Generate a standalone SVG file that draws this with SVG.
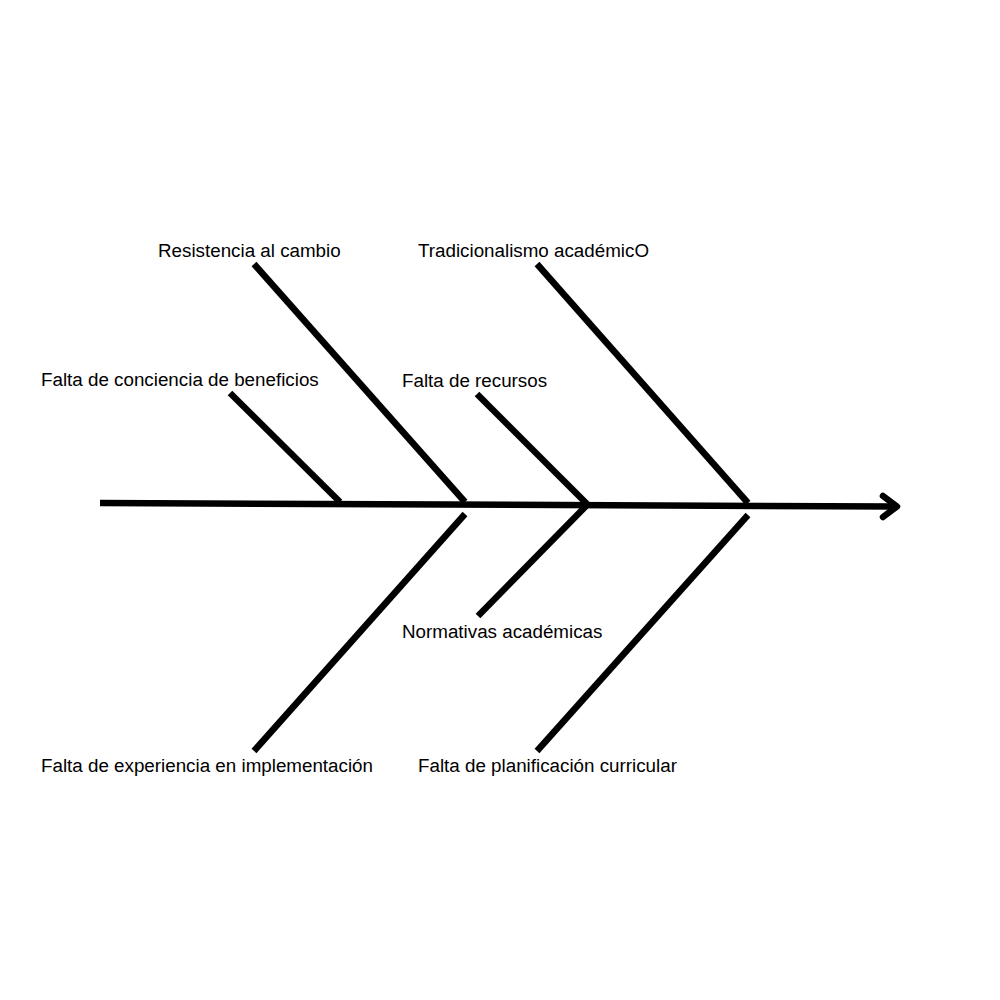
<svg xmlns="http://www.w3.org/2000/svg" width="1000" height="1000" viewBox="0 0 1000 1000">
<style>
.bone{stroke:#000;stroke-width:6.5;fill:none;stroke-linecap:butt}
.head{stroke:#000;stroke-width:6.5;fill:none;stroke-linecap:round;stroke-linejoin:round}
.lbl{font-family:"Liberation Sans",Arial,sans-serif;font-size:18.8px;fill:#000}
</style>
<rect width="1000" height="1000" fill="#fff"/>
<g id="connectors">
<line class="bone" x1="100" y1="503" x2="895" y2="506.5"/>
<polyline class="head" points="883,496 897,506.5 883,517"/>
<line class="bone" x1="254" y1="264" x2="465" y2="502"/>
<line class="bone" x1="230" y1="393" x2="340" y2="502"/>
<line class="bone" x1="537" y1="264" x2="748" y2="503"/>
<line class="bone" x1="477" y1="394" x2="587" y2="504"/>
<line class="bone" x1="465" y1="514" x2="254" y2="751"/>
<line class="bone" x1="587" y1="505" x2="478" y2="616"/>
<line class="bone" x1="748" y1="515" x2="537" y2="751"/>
</g>
<g id="node-resistencia"><text class="lbl" x="158" y="257">Resistencia al cambio</text></g>
<g id="node-conciencia"><text class="lbl" x="41" y="386">Falta de conciencia de beneficios</text></g>
<g id="node-tradicionalismo"><text class="lbl" x="418" y="257">Tradicionalismo académicO</text></g>
<g id="node-recursos"><text class="lbl" x="402" y="387">Falta de recursos</text></g>
<g id="node-experiencia"><text class="lbl" x="41" y="772">Falta de experiencia en implementación</text></g>
<g id="node-normativas"><text class="lbl" x="402" y="638">Normativas académicas</text></g>
<g id="node-planificacion"><text class="lbl" x="418" y="772">Falta de planificación curricular</text></g>
</svg>
